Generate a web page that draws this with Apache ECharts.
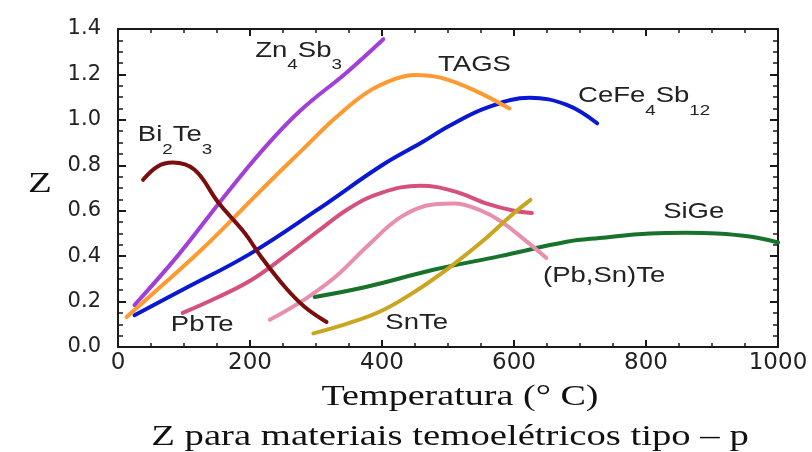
<!DOCTYPE html>
<html>
<head>
<meta charset="utf-8">
<script src="https://cdn.jsdelivr.net/npm/echarts@6/dist/echarts.min.js"></script>
<style>html,body{margin:0;padding:0;background:#fff;}#c{width:812px;height:452px;}</style>
</head>
<body>
<div id="c"></div>
<script>
// ---- data (temperature °C, Z) ----
const xTicks = [0, 200, 400, 600, 800, 1000];
const yTicks = [0.0, 0.2, 0.4, 0.6, 0.8, 1.0, 1.2, 1.4];

const siGe = [[298,0.22],[377,0.265],[478,0.34],[579,0.40],[680,0.463],[730,0.48],[806,0.50],[860,0.503],[907,0.50],[960,0.485],[1000,0.46]];
const pbTe = [[98,0.15],[152,0.22],[202,0.295],[253,0.40],[303,0.51],[350,0.61],[400,0.68],[458,0.71],[510,0.685],[560,0.63],[600,0.60],[627,0.59]];
const pbSnTe = [[230,0.12],[283,0.21],[330,0.31],[380,0.45],[430,0.575],[480,0.628],[510,0.632],[550,0.60],[579,0.555],[619,0.465],[649,0.392]];
const snTe = [[296,0.06],[351,0.106],[402,0.163],[453,0.25],[503,0.352],[554,0.47],[594,0.575],[625,0.648]];
const ceFe4Sb12 = [[25,0.14],[100,0.255],[200,0.41],[300,0.60],[400,0.80],[460,0.90],[503,0.975],[560,1.055],[624,1.097],[680,1.066],[726,0.985]];
const tags = [[13,0.132],[76,0.295],[126,0.427],[177,0.573],[227,0.72],[280,0.87],[330,1.01],[377,1.12],[420,1.18],[450,1.198],[490,1.185],[540,1.13],[593,1.05]];
const zn4Sb3 = [[25,0.185],[90,0.40],[159,0.655],[220,0.87],[276,1.04],[347,1.21],[402,1.355]];
const bi2Te3 = [[38,0.736],[60,0.795],[83,0.812],[116,0.78],[152,0.636],[192,0.502],[217,0.396],[253,0.264],[283,0.176],[316,0.11]];

const seriesNames = ['SiGe','PbTe','(Pb,Sn)Te','SnTe','CeFe4Sb12','TAGS','Zn4Sb3','Bi2Te3'];
const seriesData = [siGe, pbTe, pbSnTe, snTe, ceFe4Sb12, tags, zn4Sb3, bi2Te3];
const seriesColors = ['#17722b','#d6507e','#e98fae','#c9a520','#0a18d2','#ff9a30','#a23fd8','#7a0e0e'];

// curve labels: text with _n subscripts, anchor (left x, y of main text)
const labelTexts = ['Bi_2Te_3','Zn_4Sb_3','TAGS','CeFe_4Sb_12','PbTe','SnTe','(Pb,Sn)Te','SiGe'];
const labelX = [30, 208, 485, 697, 80, 405, 644, 826];
const labelY = [0.923, 1.295, 1.233, 1.095, 0.09, 0.097, 0.306, 0.586];

function toRich(t) {
  return t.split(/(_\d+)/).filter(s => s.length).map(s =>
    s[0] === '_' ? '{s|' + s.slice(1) + '}' : '{m|' + s + '}').join('');
}

const chart = echarts.init(document.getElementById('c'));
const axisCol = '#1a1a1a';
function xAxisCfg(pos, showLabel) {
  return {
    type: 'value', position: pos, min: 0, max: 1000, interval: 200,
    axisLine: { show: true, onZero: false, lineStyle: { color: axisCol, width: 2 } },
    axisTick: { show: true, inside: true, length: 7, lineStyle: { color: axisCol, width: 2 } },
    minorTick: { show: true, splitNumber: 4, length: 4, lineStyle: { color: axisCol, width: 1.5 } },
    splitLine: { show: false },
    axisLabel: { show: showLabel, margin: 5, color: '#222', fontSize: 23, fontFamily: 'DejaVu Sans',
      formatter: v => String(v) }
  };
}
function yAxisCfg(pos, showLabel) {
  return {
    type: 'value', position: pos, min: 0, max: 1.4, interval: 0.2,
    axisLine: { show: true, onZero: false, lineStyle: { color: axisCol, width: 2 } },
    axisTick: { show: true, inside: true, length: 8, lineStyle: { color: axisCol, width: 2 } },
    minorTick: { show: true, splitNumber: 4, length: 5, lineStyle: { color: axisCol, width: 1.5 } },
    splitLine: { show: false },
    axisLabel: { show: showLabel, margin: 17, color: '#222', fontSize: 21, fontFamily: 'DejaVu Sans',
      formatter: v => v.toFixed(1) }
  };
}

const series = seriesData.map((d, i) => ({
  name: seriesNames[i], type: 'line', data: d, smooth: 0.4, showSymbol: false,
  lineStyle: { color: seriesColors[i], width: 4, cap: 'round' }, z: 2 + i, silent: true
}));

chart.setOption({
  animation: false,
  backgroundColor: '#fff',
  grid: { left: 118, right: 34, top: 29, bottom: 105, containLabel: false },
  xAxis: [xAxisCfg('bottom', true), xAxisCfg('top', false)],
  yAxis: [yAxisCfg('left', true), yAxisCfg('right', false)],
  series: series
});

const sx = 1.25;
const richStyle = {
  m: { fontSize: 22, fontFamily: 'Liberation Sans', fill: '#222', lineHeight: 33, verticalAlign: 'top' },
  s: { fontSize: 15, fontFamily: 'Liberation Sans', fill: '#222', verticalAlign: 'bottom' }
};
const labelGraphics = labelTexts.map((t, i) => {
  const p = chart.convertToPixel({ gridIndex: 0 }, [labelX[i], labelY[i]]);
  return { type: 'text', x: p[0], y: p[1] - 13, scaleX: sx, z: 50,
    style: { text: toRich(t), rich: richStyle, fill: '#222', verticalAlign: 'top', align: 'left' } };
});

chart.setOption({
  graphic: [
    { type: 'text', x: 28, y: 184, scaleX: 1.3, style: { text: 'Z', font: '30px "Liberation Serif"', fill: '#111', verticalAlign: 'middle' } },
    { type: 'text', x: 460, y: 397, scaleX: 1.27, style: { text: 'Temperatura (° C)', font: '30px "Liberation Serif"', fill: '#111', align: 'center', verticalAlign: 'middle' } },
    { type: 'text', x: 450, y: 437, scaleX: 1.29, style: { text: 'Z para materiais temoelétricos tipo – p', font: '30px "Liberation Serif"', fill: '#111', align: 'center', verticalAlign: 'middle' } }
  ].concat(labelGraphics)
});
</script>
</body>
</html>
